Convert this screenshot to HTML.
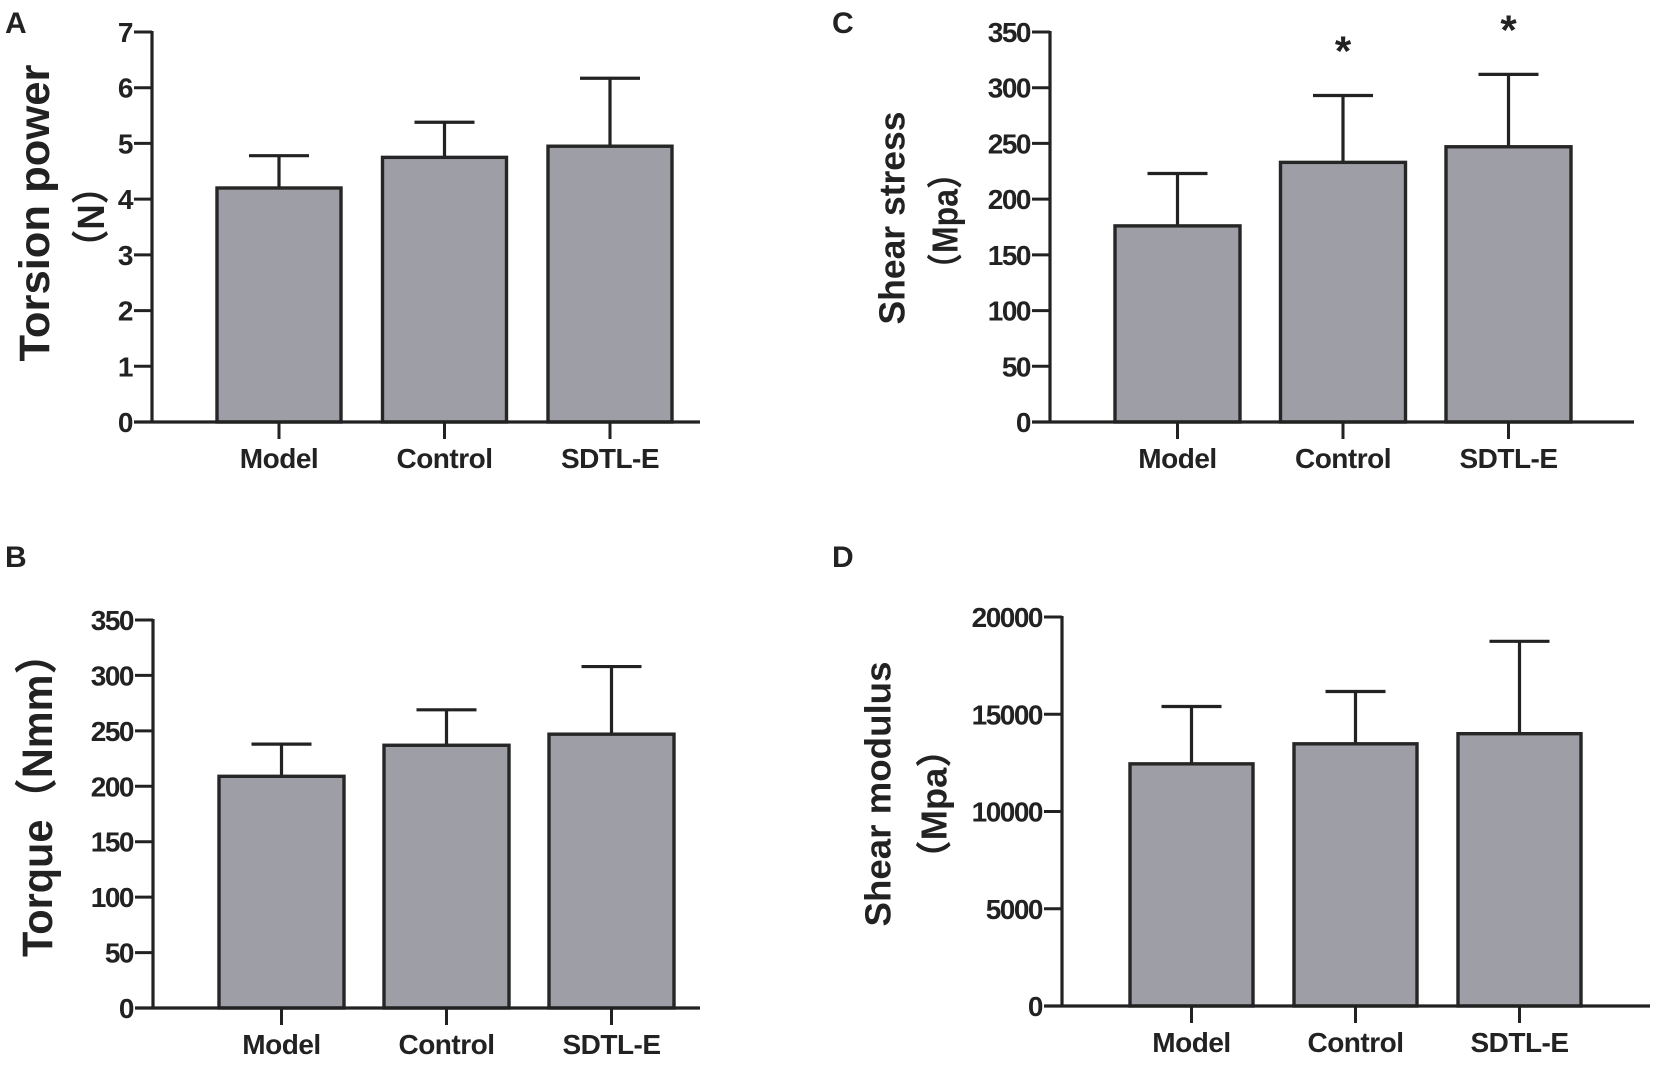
<!DOCTYPE html>
<html><head><meta charset="utf-8"><style>
html,body{margin:0;padding:0;background:#fff;}
svg{display:block;}
text{font-family:"Liberation Sans","Noto Sans CJK SC",sans-serif;font-weight:bold;fill:#222;}
</style></head>
<body>
<svg id="fig" width="1654" height="1065" viewBox="0 0 1654 1065" xmlns="http://www.w3.org/2000/svg">
<text x="5" y="33" font-size="30">A</text>
<text x="5" y="567" font-size="30">B</text>
<text x="832" y="33" font-size="30">C</text>
<text x="832" y="567" font-size="30">D</text>
</svg>
<script>
const categories = ["Model","Control","SDTL-E"];
const aMeans = [4.2, 4.75, 4.95];
const aErr = [4.78, 5.38, 6.17];
const aTicks = [0,1,2,3,4,5,6,7];
const bMeans = [209, 237, 247];
const bErr = [238, 269, 308];
const bTicks = [0,50,100,150,200,250,300,350];
const cMeans = [176, 233, 247];
const cErr = [223, 293, 312];
const cTicks = [0,50,100,150,200,250,300,350];
const cSig = ["", "*", "*"];
const dMeans = [12450, 13480, 14000];
const dErr = [15400, 16170, 18750];
const dTicks = [0,5000,10000,15000,20000];

const svg = document.getElementById('fig');
const NS = "http://www.w3.org/2000/svg";
function mk(tag, attrs){const e=document.createElementNS(NS,tag);for(const k in attrs)e.setAttribute(k,attrs[k]);svg.appendChild(e);return e;}

function panel(p){
  const yScale = v => p.y0 - (v - p.ticks[0])/(p.ticks[p.ticks.length-1]-p.ticks[0])*(p.y0-p.yTop);
  const xCenter = i => p.barX0 + p.barW/2 + i*p.step;
  p.means.forEach((m,i)=>{
    const cx = xCenter(i);
    const eb = mk('line',{x1:cx,x2:cx,y1:yScale(m),y2:yScale(p.err[i]),stroke:'#222','stroke-width':3.2});
    
    
    const cap = mk('line',{x1:cx-30,x2:cx+30,y1:yScale(p.err[i]),y2:yScale(p.err[i]),stroke:'#222','stroke-width':3.2});
    
    
    const r = mk('rect',{x:cx-p.barW/2,y:yScale(m),width:p.barW,height:p.y0-yScale(m),fill:'#9e9ea7',stroke:'#262626','stroke-width':3.4});
    
    
    const t = mk('line',{x1:cx,x2:cx,y1:p.y0,y2:p.y0+17,stroke:'#222','stroke-width':3});
    
    
    const lb = mk('text',{x:cx,y:p.y0+46,'font-size':28,'text-anchor':'middle','letter-spacing':-0.5});
    lb.textContent = categories[i];
    
    
    if(p.sig && p.sig[i]){
      const s = mk('text',{x:cx,y:yScale(p.err[i])-p.sigOff,'font-size':42,'text-anchor':'middle'});
      s.textContent = p.sig[i];
      
      
    }
  });
  const ya = mk('line',{x1:p.ax,x2:p.ax,y1:p.yTop-1,y2:p.y0,stroke:'#222','stroke-width':3.2});
  
  
  const xa = mk('line',{x1:p.ax-18,x2:p.xEnd,y1:p.y0,y2:p.y0,stroke:'#222','stroke-width':3.2});
  
  
  p.ticks.forEach(v=>{
    const y = yScale(v);
    const tk = mk('line',{x1:p.ax-18,x2:p.ax,y1:y,y2:y,stroke:'#222','stroke-width':3});
    
    
    const tl = mk('text',{x:p.ax-20,y:y+10,'font-size':28,'text-anchor':'end','letter-spacing':-1.5});
    tl.textContent = String(v);
    
    
  });
  p.titles.forEach((tt,k)=>{
    const e = mk('text',{x:0,y:0,'font-size':tt.fs,'text-anchor':'middle','dominant-baseline':'central',transform:`translate(${tt.x},${tt.y}) rotate(-90)`,textLength:tt.len,lengthAdjust:'spacingAndGlyphs'});
    e.textContent = tt.t;
    
    
  });
}

panel({id:'a',means:aMeans,err:aErr,ticks:aTicks,ax:152,y0:422,yTop:32,barX0:217,barW:124,step:165.5,xEnd:700,
  titles:[{t:"Torsion power",x:35,y:213,fs:43,len:297},{t:"（N）",x:92,y:217,fs:38,len:95}]});
panel({id:'b',means:bMeans,err:bErr,ticks:bTicks,ax:153,y0:1008,yTop:620,barX0:219,barW:125,step:165,xEnd:700,
  titles:[{t:"Torque（Nmm）",x:38,y:795,fs:43,len:324}]});
panel({id:'c',means:cMeans,err:cErr,ticks:cTicks,ax:1050,y0:422,yTop:32,barX0:1115,barW:125,step:165.5,xEnd:1634,sig:cSig,sigOff:30,
  titles:[{t:"Shear stress",x:892,y:218,fs:36,len:213},{t:"（Mpa）",x:945,y:221,fs:36,len:128}]});
panel({id:'d',means:dMeans,err:dErr,ticks:dTicks,ax:1062,y0:1006,yTop:617,barX0:1130,barW:123,step:164,xEnd:1650,
  titles:[{t:"Shear modulus",x:878,y:794,fs:36,len:265},{t:"（Mpa）",x:934,y:804,fs:36,len:145}]});
</script>
</body></html>
